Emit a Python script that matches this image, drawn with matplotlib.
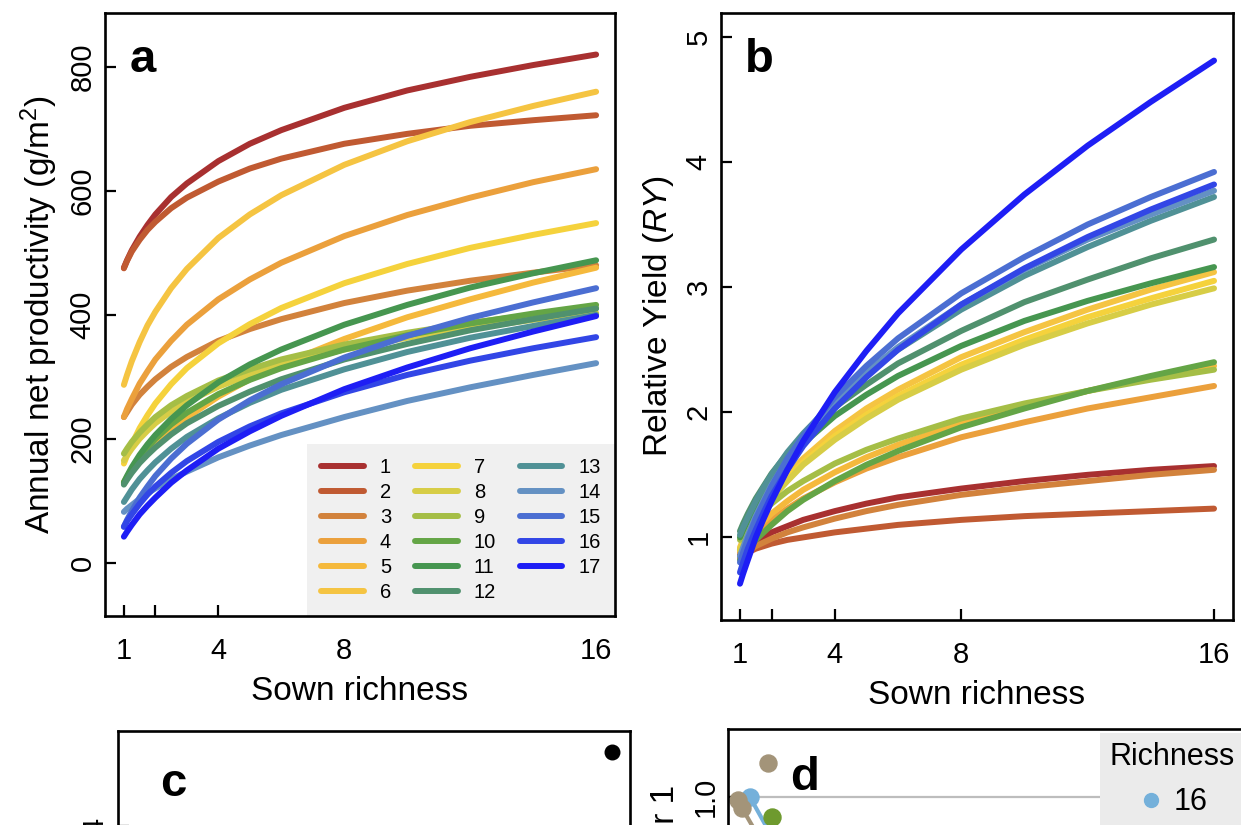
import matplotlib
matplotlib.use("Agg")
import matplotlib.pyplot as plt
from matplotlib.lines import Line2D

plt.rcParams['font.family'] = ['Liberation Sans', 'DejaVu Sans']
plt.rcParams['mathtext.fontset'] = 'custom'
plt.rcParams['mathtext.rm'] = 'Liberation Sans'
plt.rcParams['mathtext.it'] = 'Liberation Sans:italic'

# ---- data ----
sown = [1, 1.1, 1.25, 1.5, 1.75, 2, 2.5, 3, 4, 5, 6, 8, 10, 12, 14, 16]
species = [str(i) for i in range(1, 18)]

# panel a: annual net productivity (g/m2), species 1..17
anpp = [
    [476, 488, 504, 526, 545, 562, 590, 612, 648, 676, 698, 734, 762, 784, 803, 820],
    [475, 487, 502, 521, 537, 550, 572, 589, 615, 636, 652, 676, 692, 705, 714, 722],
    [235, 243, 255, 271, 284, 296, 316, 332, 358, 377, 393, 419, 439, 455, 468, 480],
    [235, 248, 264, 289, 309, 328, 358, 384, 425, 457, 484, 527, 561, 589, 614, 635],
    [130, 138, 149, 165, 179, 192, 214, 234, 268, 296, 320, 361, 396, 425, 452, 476],
    [287, 303, 325, 356, 383, 405, 443, 474, 524, 562, 593, 642, 680, 711, 737, 760],
    [160, 173, 191, 217, 238, 257, 288, 314, 354, 385, 411, 451, 482, 508, 529, 548],
    [165, 173, 184, 200, 213, 225, 244, 259, 284, 303, 319, 344, 363, 378, 392, 403],
    [176, 184, 195, 210, 223, 235, 254, 269, 294, 312, 328, 352, 371, 387, 400, 411],
    [128, 138, 151, 170, 186, 200, 223, 242, 272, 295, 314, 344, 367, 386, 402, 416],
    [130, 140, 154, 174, 191, 206, 232, 254, 291, 320, 344, 384, 416, 444, 467, 488],
    [126, 134, 145, 161, 174, 186, 207, 225, 253, 276, 296, 328, 353, 375, 393, 410],
    [98, 106, 118, 135, 149, 162, 184, 203, 233, 258, 279, 312, 340, 363, 382, 400],
    [82, 87, 93, 103, 112, 120, 135, 147, 170, 189, 206, 235, 261, 283, 303, 322],
    [58, 69, 83, 105, 123, 140, 168, 192, 231, 262, 288, 331, 366, 395, 420, 443],
    [58, 67, 78, 95, 110, 123, 145, 164, 195, 220, 241, 275, 303, 326, 346, 364],
    [42, 50, 61, 78, 92, 105, 129, 149, 184, 212, 237, 280, 315, 346, 373, 398],
]

# panel b: relative yield, species 1..17
ry = [
    [0.86, 0.88, 0.92, 0.96, 1.00, 1.04, 1.09, 1.14, 1.21, 1.27, 1.32, 1.39, 1.45, 1.50, 1.54, 1.57],
    [0.85, 0.86, 0.88, 0.91, 0.93, 0.95, 0.98, 1.00, 1.04, 1.07, 1.10, 1.14, 1.17, 1.19, 1.21, 1.23],
    [0.84, 0.86, 0.89, 0.93, 0.96, 0.99, 1.04, 1.08, 1.15, 1.21, 1.26, 1.34, 1.40, 1.45, 1.50, 1.54],
    [0.88, 0.91, 0.96, 1.03, 1.09, 1.14, 1.23, 1.31, 1.44, 1.55, 1.64, 1.80, 1.92, 2.03, 2.12, 2.21],
    [0.90, 0.94, 0.99, 1.06, 1.13, 1.19, 1.29, 1.38, 1.52, 1.64, 1.74, 1.91, 2.05, 2.17, 2.28, 2.37],
    [0.92, 0.98, 1.05, 1.16, 1.26, 1.35, 1.50, 1.63, 1.85, 2.03, 2.18, 2.44, 2.64, 2.82, 2.98, 3.12],
    [0.90, 0.95, 1.03, 1.14, 1.23, 1.32, 1.47, 1.60, 1.81, 1.98, 2.13, 2.38, 2.58, 2.76, 2.91, 3.05],
    [0.90, 0.95, 1.02, 1.13, 1.22, 1.31, 1.45, 1.58, 1.78, 1.95, 2.10, 2.34, 2.54, 2.71, 2.86, 2.99],
    [0.98, 1.02, 1.07, 1.15, 1.21, 1.27, 1.37, 1.45, 1.59, 1.70, 1.79, 1.95, 2.07, 2.17, 2.26, 2.34],
    [0.82, 0.86, 0.90, 0.98, 1.04, 1.10, 1.21, 1.30, 1.45, 1.58, 1.69, 1.88, 2.03, 2.17, 2.29, 2.40],
    [1.00, 1.06, 1.14, 1.26, 1.37, 1.46, 1.62, 1.75, 1.97, 2.14, 2.29, 2.53, 2.73, 2.89, 3.03, 3.16],
    [1.05, 1.11, 1.19, 1.31, 1.41, 1.51, 1.67, 1.81, 2.04, 2.22, 2.39, 2.65, 2.88, 3.06, 3.23, 3.38],
    [1.02, 1.08, 1.16, 1.29, 1.40, 1.50, 1.68, 1.83, 2.09, 2.31, 2.50, 2.82, 3.09, 3.32, 3.53, 3.72],
    [0.85, 0.92, 1.02, 1.17, 1.30, 1.42, 1.62, 1.80, 2.09, 2.32, 2.52, 2.86, 3.14, 3.38, 3.58, 3.77],
    [0.80, 0.88, 0.99, 1.15, 1.28, 1.41, 1.63, 1.81, 2.12, 2.37, 2.59, 2.95, 3.24, 3.50, 3.72, 3.92],
    [0.72, 0.80, 0.91, 1.06, 1.20, 1.33, 1.54, 1.73, 2.03, 2.28, 2.50, 2.86, 3.15, 3.40, 3.62, 3.82],
    [0.63, 0.71, 0.82, 1.00, 1.15, 1.29, 1.54, 1.77, 2.16, 2.49, 2.79, 3.30, 3.74, 4.13, 4.48, 4.81],
]

colors = ['#A83030', '#C05A32', '#D2823C', '#EBA03C', '#F5B93C', '#F5C442',
          '#F5D23C', '#D7CD46', '#A5BE46', '#64A546', '#469650', '#50916E',
          '#509196', '#6491C3', '#4B6ED2', '#3246E6', '#1E1EF5']

x_ticks = [1, 2, 4, 8, 16]
x_ticklabels = ['1', '', '4', '8', '16']

# panels c and d are cut off at the bottom; only their tops show
c_x = [0.965]
c_y = [4.78]
d_groups = {
    '16': ([0.42, 1.0], [1.0, 0.84]),
    '8': ([0.19, 0.27, 0.9], [0.99, 0.967, 0.80]),
    '4': ([0.84, 1.2], [0.941, 0.80]),
}
d_top_x = [0.77]
d_top_y = [1.10]
d_colors = {'16': '#74B0DA', '8': '#A39479', '4': '#6E9A2E', '2': '#8C6BB1'}
d_labels = ['16', '8', '4', '2']

W, H = 1241, 825
fig = plt.figure(figsize=(W / 100, H / 100), dpi=100)


def px_axes(l, t, r, b):
    return fig.add_axes([l / W, 1 - b / H, (r - l) / W, (b - t) / H])


def style(ax):
    for sp in ax.spines.values():
        sp.set_linewidth(1.9)
        sp.set_zorder(6)
    ax.tick_params(direction='in', length=8, width=1.6, labelsize=21,
                   color='black')


ax_a = px_axes(105, 13, 615, 616)
ax_b = px_axes(721, 13, 1233, 620)
ax_c = px_axes(118, 731, 630, 1300)
ax_d = px_axes(728, 729, 1250, 1300)

LW = 4.3

# ---- a ----
style(ax_a)
for i in range(len(anpp)):
    ax_a.plot(sown, anpp[i], color=colors[i], lw=LW, solid_capstyle='round',
              solid_joinstyle='round', label=species[i])
ax_a.set_xlim(0.4, 16.6)
ax_a.set_ylim(-86, 887)
ax_a.set_xticks(x_ticks)
ax_a.set_xticklabels(x_ticklabels)
ax_a.set_yticks([0, 200, 400, 600, 800])
for lab in ax_a.get_yticklabels():
    lab.set_rotation(90)
    lab.set_va('center')
ax_a.tick_params(axis='x', pad=15)
ax_a.tick_params(axis='y', pad=6)
ax_a.set_xlabel('Sown richness', fontsize=24, labelpad=8)
ax_a.set_ylabel(r'Annual net productivity (g/m$^2$)', fontsize=24, labelpad=6)
ax_a.text(0.048, 0.902, 'a', transform=ax_a.transAxes, fontsize=34,
          fontweight='bold', va='baseline')
leg = ax_a.legend(ncol=3, loc='lower right', borderaxespad=0, fontsize=14.5,
                  frameon=True, fancybox=False, facecolor='#F0F0F0',
                  edgecolor='none', framealpha=1, handlelength=2.1,
                  handletextpad=0.8, columnspacing=1.2, labelspacing=0.3,
                  borderpad=0.7)

# ---- b ----
style(ax_b)
for i in range(len(ry)):
    ax_b.plot(sown, ry[i], color=colors[i], lw=LW, solid_capstyle='round',
              solid_joinstyle='round')
ax_b.set_xlim(0.4, 16.6)
ax_b.set_ylim(0.34, 5.19)
ax_b.set_xticks(x_ticks)
ax_b.set_xticklabels(x_ticklabels)
ax_b.set_yticks([1, 2, 3, 4, 5])
for lab in ax_b.get_yticklabels():
    lab.set_rotation(90)
    lab.set_va('center')
ax_b.tick_params(axis='x', pad=15)
ax_b.tick_params(axis='y', pad=6)
ax_b.set_xlabel('Sown richness', fontsize=24, labelpad=8)
ax_b.set_ylabel(r'Relative Yield ($\mathit{RY}$)', fontsize=24, labelpad=6)
ax_b.text(0.047, 0.903, 'b', transform=ax_b.transAxes, fontsize=34,
          fontweight='bold', va='baseline')

# ---- c ----
style(ax_c)
ax_c.scatter(c_x, c_y, s=110, color='black', zorder=3)
ax_c.set_xlim(0, 1)
ax_c.set_ylim(-0.99, 5.0)
ax_c.set_xticks([])
ax_c.set_yticks([4])
for lab in ax_c.get_yticklabels():
    lab.set_rotation(90)
    lab.set_va('center')
ax_c.tick_params(axis='y', pad=6)
ax_c.text(0.082, 0.885, 'c', transform=ax_c.transAxes, fontsize=34,
          fontweight='bold', va='baseline')

# ---- d ----
style(ax_d)
ax_d.axhline(1.0, color='#BDBDBD', lw=1.6, zorder=0)
for key, (gx, gy) in d_groups.items():
    ax_d.plot(gx, gy, color=d_colors[key], lw=3, zorder=2)
    ax_d.scatter(gx, gy, s=150, color=d_colors[key], zorder=3)
ax_d.scatter(d_top_x, d_top_y, s=150, color=d_colors['8'], zorder=3)
ax_d.set_xlim(0, 10)
ax_d.set_ylim(-0.479, 1.2)
ax_d.set_xticks([])
ax_d.set_yticks([1.0])
ax_d.set_yticklabels(['1.0'])
for lab in ax_d.get_yticklabels():
    lab.set_rotation(90)
    lab.set_va('center')
ax_d.tick_params(axis='y', pad=6)
ax_d.text(0.119, 0.893, 'd', transform=ax_d.transAxes, fontsize=34,
          fontweight='bold', va='baseline')
handles = [Line2D([], [], marker='o', ls='none', color=d_colors[k], ms=10)
           for k in d_labels]
ax_d.legend(handles, d_labels, title='Richness', loc='upper left',
            bbox_to_anchor=(1100 / W, 1 - 733 / H),
            bbox_transform=fig.transFigure, borderaxespad=0, fontsize=22,
            title_fontsize=22, frameon=True, facecolor='#EBEBEB',
            edgecolor='none', fancybox=False, framealpha=1,
            handlelength=1.0, handletextpad=0.25, borderpad=0.3)
fig.text(665 / W, 1 - 785 / H, 'Factor 1', rotation=90, fontsize=24,
         ha='center', va='top')

fig.savefig('out.png', dpi=100)
